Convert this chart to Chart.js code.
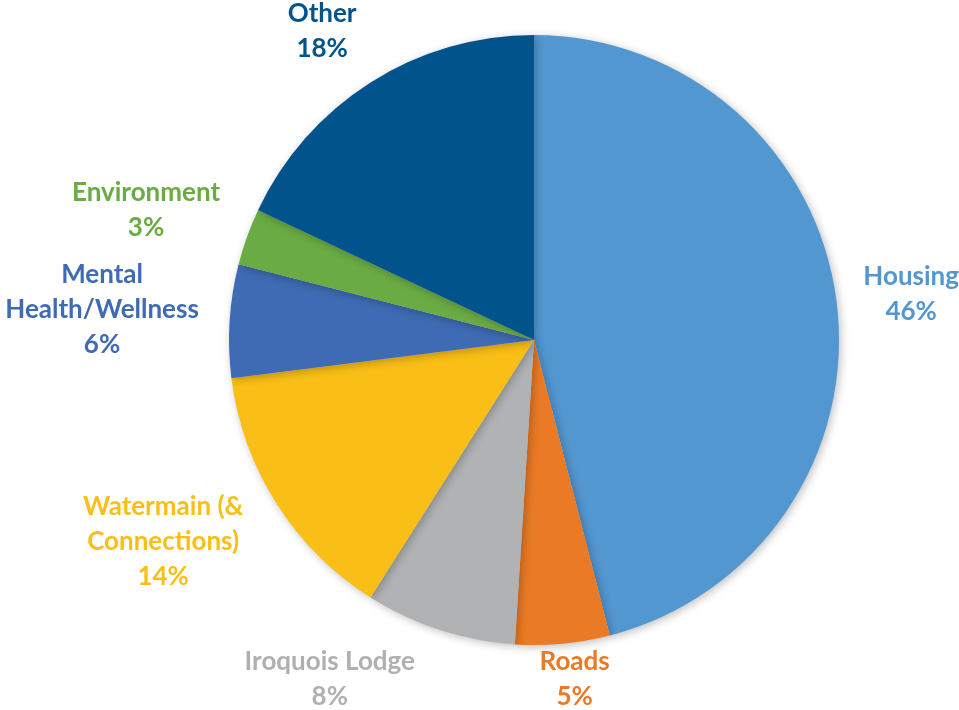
<!DOCTYPE html>
<html>
<head>
<meta charset="utf-8">
<script src="https://cdn.jsdelivr.net/npm/chart.js@4"></script>
<style>
  body { margin: 0; background: #fff; }
  canvas { display: block; }
</style>
</head>
<body>
<canvas id="pieChart" width="959" height="710"></canvas>
<script>
// data, clockwise from 12 o'clock
let categories = ["Housing", "Roads", "Iroquois Lodge", ["Watermain (&", "Connections)"], ["Mental", "Health/Wellness"], "Environment", "Other"];
let shares = [46, 5, 8, 14, 6, 3, 18];
let sliceColors = ["#5397d1", "#ea7a25", "#b1b2b4", "#f9bf17", "#3e6bb3", "#6aab43", "#00548b"];
let labelColors = ["#5397d1", "#ea7a25", "#b0b0b0", "#f9bf17", "#3e6bb3", "#6aab43", "#00548b"];

// soft shadow under the pie
let pieShadow = {
    id: "pieShadow",
    beforeDatasetsDraw(chart) {
        let ctx = chart.ctx;
        ctx.save();
        ctx.shadowColor = "rgba(0,0,0,0.25)";
        ctx.shadowBlur = 8;
        ctx.shadowOffsetX = 2;
        ctx.shadowOffsetY = 2;
    },
    afterDatasetsDraw(chart) {
        chart.ctx.restore();
    }
};

// outside-end labels: category + percent, coloured like the slice
let outsideLabels = {
    id: "outsideLabels",
    afterDraw(chart, args, opts) {
        let ctx = chart.ctx;
        let meta = chart.getDatasetMeta(0);
        let gap = 28, lineH = 35;
        let nudge = opts.nudge || [];
        ctx.save();
        ctx.font = "bold 26px Lato";
        ctx.textAlign = "center";
        ctx.textBaseline = "middle";
        meta.data.forEach(function(arc, i) {
            let p = arc.getProps(["x", "y", "startAngle", "endAngle", "outerRadius"], true);
            let mid = (p.startAngle + p.endAngle) / 2;
            let name = categories[i];
            let lines = (Array.isArray(name) ? name.slice() : [name]);
            lines.push(shares[i] + "%");
            let w = Math.max.apply(null, lines.map(function(t) { return ctx.measureText(t).width; }));
            let h = lines.length * lineH;
            let ax = p.x + Math.cos(mid) * (p.outerRadius + gap);
            let ay = p.y + Math.sin(mid) * (p.outerRadius + gap);
            let cx = ax + Math.cos(mid) * w / 2;
            let cy = ay + Math.sin(mid) * h / 2;
            let n = nudge[i] || [0, 0];
            cx = Math.min(Math.max(cx + n[0], w / 2), chart.width - w / 2);
            cy = Math.min(Math.max(cy + n[1], h / 2 - 4), chart.height - h / 2 + 4);
            ctx.fillStyle = labelColors[i];
            lines.forEach(function(t, k) {
                ctx.fillText(t, cx, cy - h / 2 + lineH / 2 + k * lineH);
            });
        });
        ctx.restore();
    }
};

let ctx1 = document.getElementById("pieChart").getContext("2d");
let pieChart = new Chart(ctx1, {
    type: "pie",
    data: {
        labels: categories,
        datasets: [{
            data: shares,
            backgroundColor: sliceColors,
            borderWidth: 0
        }]
    },
    options: {
        responsive: false,
        maintainAspectRatio: false,
        animation: false,
        layout: { padding: { left: 229, right: 120, top: 35, bottom: 65 } },
        plugins: {
            legend: { display: false },
            tooltip: { enabled: false },
            outsideLabels: {
                // small hand nudges so labels sit where the original placed them
                nudge: [[0, 0], [6, 0], [-75, 0], [-22, -5], [-3, -6], [-5, -5], [-15, 2]]
            }
        }
    },
    plugins: [pieShadow, outsideLabels]
});
</script>
</body>
</html>
